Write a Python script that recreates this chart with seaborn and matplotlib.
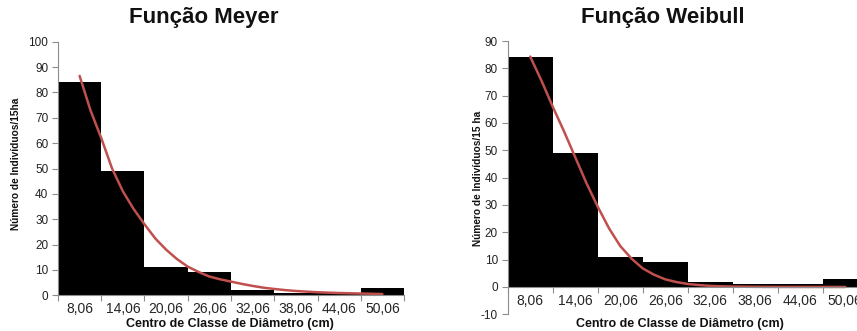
import matplotlib
matplotlib.use("Agg")
import matplotlib.pyplot as plt
import seaborn as sns
import numpy as np
import pandas as pd
from matplotlib.ticker import FixedLocator, NullFormatter

# ---------------- data ----------------
class_centers = [8.06, 14.06, 20.06, 26.06, 32.06, 38.06, 44.06, 50.06]
tick_labels = ["8,06", "14,06", "20,06", "26,06", "32,06", "38,06", "44,06", "50,06"]
observed = [84, 49, 11, 9, 2, 1, 1, 3]

curve_x = [8.06, 9.56, 11.06, 12.56, 14.06, 15.56, 17.06, 18.56, 20.06, 21.56,
           23.06, 24.56, 26.06, 27.56, 29.06, 30.56, 32.06, 33.56, 35.06, 36.56,
           38.06, 39.56, 41.06, 42.56, 44.06, 45.56, 47.06, 48.56, 50.06]
meyer_y = [86.5, 73.0, 62.0, 50.0, 41.0, 34.0, 28.0, 22.4, 18.0, 14.3,
           11.3, 9.2, 7.4, 6.3, 5.4, 4.5, 3.7, 3.0, 2.5, 2.05,
           1.7, 1.45, 1.2, 1.05, 0.9, 0.8, 0.7, 0.6, 0.5]
weibull_y = [84.3, 75.5, 66.0, 57.0, 47.5, 38.0, 29.4, 21.5, 15.0, 10.4,
             6.8, 4.5, 2.8, 1.8, 1.1, 0.7, 0.4, 0.25, 0.15, 0.1,
             0.05, 0.03, 0.02, 0.01, 0.01, 0.0, 0.0, 0.0, 0.0]

titles = ["Função Meyer", "Função Weibull"]
ylabels = ["Número de Indivíduos/15ha", "Número de Indivíduos/15 ha"]
xlabel = "Centro de Classe de Diâmetro (cm)"

# ---------------- style ----------------
sns.set_style("white")
plt.rcParams["font.family"] = ["Liberation Sans", "DejaVu Sans"]

W, H = 857, 331
fig = plt.figure(figsize=(W / 100, H / 100), dpi=100)

def px_axes(x0, x1, ytop, ybot):
    return fig.add_axes([x0 / W, 1 - ybot / H, (x1 - x0) / W, (ybot - ytop) / H])

ax1 = px_axes(58, 404, 41.7, 295.3)
ax2 = px_axes(507.7, 867.7, 41, 314.3)

line_color = "#C0504D"
spine_color = "#8c8c8c"
half = (class_centers[1] - class_centers[0]) / 2
edges = [c - half for c in class_centers] + [class_centers[-1] + half]

def draw(ax, curve, ylim, yticks, title, ylabel, title_x, ylab_pos, xlab_pos, tick_fs):
    df = pd.DataFrame({"centro": class_centers, "n": observed})
    sns.barplot(data=df, x="centro", y="n", native_scale=True, width=1.0,
                color="black", saturation=1, edgecolor="black", linewidth=0, ax=ax)
    sns.lineplot(x=curve_x, y=curve, color=line_color, linewidth=1.8, ax=ax)
    ax.set_xlim(edges[0], edges[-1])
    ax.set_ylim(*ylim)
    ax.set_yticks(yticks)
    ax.set_yticklabels([str(v) for v in yticks], fontsize=tick_fs, color="#222222")
    ax.xaxis.set_major_locator(FixedLocator(edges))
    ax.xaxis.set_major_formatter(NullFormatter())
    ax.xaxis.set_minor_locator(FixedLocator(class_centers))
    ax.set_xticklabels(tick_labels, minor=True, fontsize=tick_fs, color="#222222")
    ax.tick_params(axis="x", which="major", length=4, width=0.8, color=spine_color, direction="out", bottom=True)
    ax.tick_params(axis="x", which="minor", length=0, pad=5, bottom=True)
    ax.tick_params(axis="y", length=4, width=0.8, color=spine_color, direction="out", left=True, pad=3)
    for s in ["top", "right"]:
        ax.spines[s].set_visible(False)
    for s in ["left", "bottom"]:
        ax.spines[s].set_color(spine_color)
        ax.spines[s].set_linewidth(0.8)
    ax.spines["bottom"].set_position(("data", 0))
    ax.set_xlabel(xlabel, fontsize=9, fontweight="bold", color="#111111")
    ax.xaxis.set_label_coords(*xlab_pos)
    ax.set_ylabel(ylabel, fontsize=7.3, fontweight="bold", color="#111111")
    ax.yaxis.set_label_coords(*ylab_pos)
    fig.text(title_x, 1 - 18 / H, title, ha="center", va="center",
             fontsize=16, fontweight="bold", color="#111111")
    ax.grid(False)

draw(ax1, meyer_y, (0, 100), list(range(0, 101, 10)), titles[0], ylabels[0],
     204 / W, (-0.107, 0.518), (0.497, -0.0895), 8.5)
draw(ax2, weibull_y, (-10, 90), list(range(-10, 91, 10)), titles[1], ylabels[1],
     663 / W, (-0.0686, 0.499), (0.479, -0.0135), 8.5)

fig.savefig("out.png", dpi=100)
